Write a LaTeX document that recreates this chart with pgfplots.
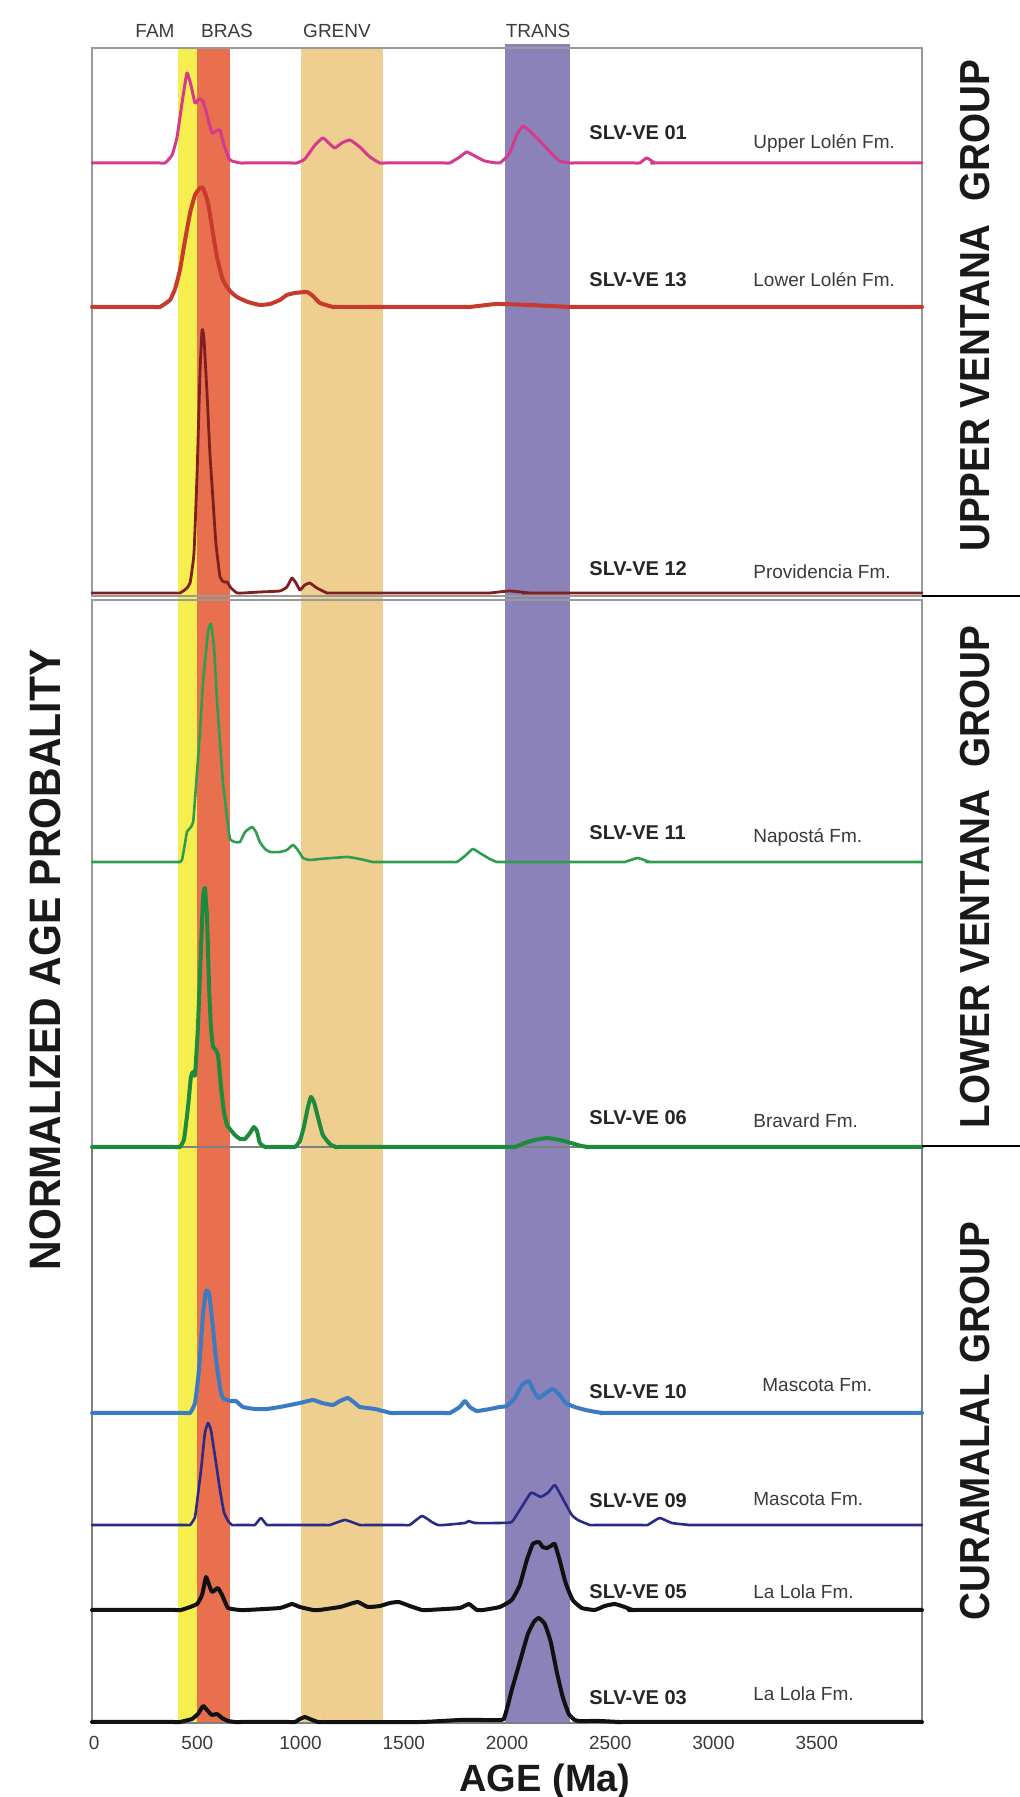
\documentclass[border=0pt]{standalone}
\usepackage{pgfplots}
\pgfplotsset{compat=1.18}
\usepackage{fontspec}
\setmainfont{Liberation Sans}
\usepackage{graphicx}

\definecolor{famY}{HTML}{F6EE4F}
\definecolor{brasO}{HTML}{E8704F}
\definecolor{grenv}{HTML}{EFCF90}
\definecolor{trans}{HTML}{8B82BA}
\definecolor{pinkc}{HTML}{D63A8C}
\definecolor{redc}{HTML}{C63B2E}
\definecolor{brownc}{HTML}{7E2020}
\definecolor{greenA}{HTML}{2E9E4E}
\definecolor{greenB}{HTML}{1E8A3C}
\definecolor{bluec}{HTML}{3A7BC4}
\definecolor{navyc}{HTML}{2B2A85}
\definecolor{blk}{HTML}{111111}
\definecolor{frame}{HTML}{9A9A9A}
\definecolor{txt}{HTML}{3A3A3A}

\begin{document}
\begin{tikzpicture}[x=1pt,y=1pt]
\useasboundingbox (0,0) rectangle (510,898.5);
\begin{axis}[
  at={(46pt,37pt)}, anchor=south west, scale only axis,
  width=415pt, height=837.5pt,
  xmin=-10, xmax=4010, ymin=0, ymax=1675,
  clip=false, axis line style={draw=none},
  ytick=\empty,
  xtick={0,500,1000,1500,2000,2500,3000,3500},
  xticklabels={0,500,1000,1500,2000,2500,3000,3500},
  major tick length=0pt,
  xticklabel style={font=\fontsize{9.5}{11}\selectfont, text=txt, yshift=-3pt},
  every axis plot/.append style={line join=round, line cap=round, smooth, tension=0.25},
]
% age bands
\fill[famY] (axis cs:405,0) rectangle (axis cs:500,1675);
\fill[brasO] (axis cs:500,0) rectangle (axis cs:660,1675);
\fill[grenv] (axis cs:1000,0) rectangle (axis cs:1400,1675);
\fill[trans] (axis cs:1990,0) rectangle (axis cs:2305,1679);
% panel frames
\draw[frame, line width=0.8pt] (axis cs:-10,1127) rectangle (axis cs:4010,1675);
\draw[frame, line width=0.8pt] (axis cs:-10,576) rectangle (axis cs:4010,1123);
\draw[gray, line width=0.9pt] (axis cs:-10,0) rectangle (axis cs:4010,576);

% SLV-VE 01
\addplot[pinkc, line width=1.5pt] table[x=a, y expr=\thisrow{h}+1560] {
a h
-10 0
314 0
344 0
378 8
402 26
426 60
450 90
469 78
489 60
508 64
528 62
547 48
571 30
590 32
610 33
629 18
658 3
707 0
737 0
953 0
983 0
1021 4
1070 18
1108 25
1137 20
1166 15
1200 20
1239 23
1287 16
1336 6
1384 0
1414 0
1693 0
1723 0
1771 6
1805 11
1844 7
1892 2
1965 0
2013 10
2047 28
2076 37
2110 32
2159 22
2222 8
2255 2
2304 0
2334 0
2613 0
2643 0
2677 5
2716 0
2746 0
4010 0
};
% SLV-VE 13
\addplot[redc, line width=2pt] table[x=a, y expr=\thisrow{h}+1416] {
a h
-10 0
289 0
319 0
368 7
392 18
416 37
440 66
465 94
489 112
513 119
528 119
552 104
571 80
595 50
624 27
658 16
692 10
745 5
803 2
852 3
900 7
934 12
973 14
1031 15
1060 11
1094 4
1157 0
1187 0
1790 0
1820 0
1950 3
2110 2
2304 0
2334 0
4010 0
};
% SLV-VE 12
\addplot[brownc, line width=1.4pt] table[x=a, y expr=\thisrow{h}+1130] {
a h
-10 0
386 0
416 0
445 4
465 10
484 40
499 120
513 220
523 263
532 255
547 200
561 140
576 93
590 50
610 16
629 11
644 11
663 5
692 0
722 0
803 1
900 2
934 6
958 15
978 10
997 3
1021 8
1045 10
1079 5
1128 0
1158 0
1887 0
1917 0
2013 2
2110 0
2140 0
4010 0
};
% SLV-VE 11
\addplot[greenA, line width=1.3pt] table[x=a, y expr=\thisrow{h}+861] {
a h
-10 0
386 0
416 0
426 2
440 18
450 30
469 35
480 40
489 63
513 130
528 180
552 230
566 238
581 215
595 163
610 120
624 80
644 45
658 23
682 20
707 20
731 30
765 35
784 30
803 20
828 13
852 10
900 10
934 12
963 17
987 12
1012 4
1045 2
1094 3
1225 5
1287 3
1350 0
1380 0
1727 0
1757 0
1796 6
1834 13
1868 9
1917 3
1951 0
1981 0
2540 0
2570 0
2633 4
2691 0
2721 0
4010 0
};
% SLV-VE 06
\addplot[greenB, line width=2pt] table[x=a, y expr=\thisrow{h}+576] {
a h
-10 0
386 0
416 0
436 8
455 40
469 70
479 75
489 72
503 120
518 200
528 250
537 259
547 230
557 160
566 120
576 100
586 98
600 92
615 60
629 35
644 22
658 18
682 12
707 8
731 8
755 14
774 20
789 16
803 4
828 0
858 0
943 0
973 0
997 6
1016 20
1036 40
1050 50
1065 45
1084 30
1108 12
1142 3
1171 0
1201 0
2008 0
2038 0
2086 4
2134 7
2193 9
2255 7
2310 4
2360 1
2400 0
2440 0
4010 0
};
% SLV-VE 10
\addplot[bluec, line width=2pt] table[x=a, y expr=\thisrow{h}+310] {
a h
-10 0
435 0
465 0
489 10
508 43
528 100
542 122
557 120
576 85
590 55
610 25
624 15
658 12
687 12
721 6
779 4
837 4
900 6
949 8
997 10
1060 13
1104 10
1157 8
1191 12
1229 15
1263 10
1287 6
1360 4
1437 0
1467 0
1693 0
1723 0
1771 6
1796 12
1820 6
1854 2
1917 4
1965 6
1999 7
2038 15
2072 28
2105 32
2130 22
2154 15
2188 20
2222 24
2255 18
2284 10
2328 6
2381 3
2430 1
2470 0
2510 0
4010 0
};
% SLV-VE 09
\addplot[navyc, line width=1.3pt] table[x=a, y expr=\thisrow{h}+198] {
a h
-10 0
435 0
465 0
489 8
503 30
518 55
537 92
552 102
566 95
581 75
590 63
610 35
629 13
649 4
668 0
698 0
749 0
779 0
808 7
837 0
867 0
1112 0
1142 0
1215 5
1287 0
1317 0
1499 0
1529 0
1588 9
1636 3
1665 0
1695 0
1796 2
1815 4
1844 2
1965 2
2023 3
2062 15
2115 32
2144 30
2163 28
2197 32
2231 40
2255 32
2284 21
2314 10
2343 5
2401 0
2431 0
2651 0
2681 0
2739 7
2798 2
2885 0
2915 0
4010 0
};
% SLV-VE 05
\addplot[blk, line width=2pt] table[x=a, y expr=\thisrow{h}+113] {
a h
-10 0
391 0
421 0
465 3
499 6
523 15
542 33
557 25
571 18
586 20
600 22
620 15
649 2
707 0
737 0
900 2
958 6
997 3
1060 0
1090 0
1191 3
1239 6
1278 8
1326 3
1384 4
1433 7
1476 8
1529 4
1588 0
1618 0
1771 2
1815 6
1854 0
1884 0
1965 3
2023 10
2062 25
2096 50
2125 66
2154 68
2173 63
2193 62
2212 64
2231 66
2255 50
2284 27
2318 10
2362 2
2425 0
2473 4
2522 6
2570 3
2609 0
2639 0
4010 0
};
% SLV-VE 03
\addplot[blk, line width=2pt] table[x=a, y expr=\thisrow{h}+1] {
a h
-10 0
386 0
416 0
474 3
503 8
528 16
547 12
571 7
595 8
620 4
649 1
682 0
712 0
943 0
973 0
997 3
1021 5
1045 3
1084 0
1114 0
1578 0
1771 2
1917 2
1984 3
2023 32
2062 60
2101 88
2130 100
2154 104
2183 98
2212 80
2241 50
2270 25
2299 8
2328 2
2352 1
2449 1
2546 0
2576 0
4010 0
};
\end{axis}

% band labels
\begin{scope}[every node/.style={font=\fontsize{9.5}{11}\selectfont, text=txt, inner sep=0pt, anchor=base}]
\node at (77.5,879.5) {FAM};
\node at (113.5,879.5) {BRAS};
\node at (168.5,879.5) {GRENV};
\node at (269,879.5) {TRANS};
\end{scope}

% sample labels
\begin{scope}[every node/.style={font=\bfseries\fontsize{10}{12}\selectfont, text=black!85, inner sep=0pt, anchor=base west}]
\node at (294.5,828.5) {SLV-VE 01};
\node at (294.5,755) {SLV-VE 13};
\node at (294.5,610.5) {SLV-VE 12};
\node at (294.5,478.5) {SLV-VE 11};
\node at (294.5,336) {SLV-VE 06};
\node at (294.5,199) {SLV-VE 10};
\node at (294.5,144.5) {SLV-VE 09};
\node at (294.5,99) {SLV-VE 05};
\node at (294.5,46) {SLV-VE 03};
\end{scope}
\begin{scope}[every node/.style={font=\fontsize{9.5}{11}\selectfont, text=txt, inner sep=0pt, anchor=base west}]
\node at (376.5,824) {Upper Lolén Fm.};
\node at (376.5,755) {Lower Lolén Fm.};
\node at (376.5,609) {Providencia Fm.};
\node at (376.5,477) {Napostá Fm.};
\node at (376.5,334.5) {Bravard Fm.};
\node at (381,202.5) {Mascota Fm.};
\node at (376.5,145.5) {Mascota Fm.};
\node at (376.5,99) {La Lola Fm.};
\node at (376.5,48) {La Lola Fm.};
\end{scope}

% separators on the right
\draw[black, line width=1pt] (461,600.5) -- (510,600.5);
\draw[black, line width=1pt] (461,325.5) -- (510,325.5);

% group labels
\begin{scope}[every node/.style={font=\bfseries\fontsize{21}{24}\selectfont, text=black!90, inner sep=0pt, rotate=90}]
\node at (487.5,745.5) {\scalebox{0.92}[1]{UPPER VENTANA\hspace{0.3em} GROUP}};
\node at (487.5,460) {\scalebox{0.92}[1]{LOWER VENTANA\hspace{0.3em} GROUP}};
\node at (487.5,188) {\scalebox{0.92}[1]{CURAMALAL GROUP}};
\end{scope}

% axis titles
\node[font=\bfseries\fontsize{22}{26}\selectfont, text=black!90, inner sep=0pt, rotate=90] at (22.5,418.5) {\scalebox{0.93}[1]{NORMALIZED AGE PROBALITY}};
\node[font=\bfseries\fontsize{19}{22}\selectfont, text=black!90, inner sep=0pt, anchor=base] at (272.5,2.75) {AGE (Ma)};
\end{tikzpicture}
\end{document}
